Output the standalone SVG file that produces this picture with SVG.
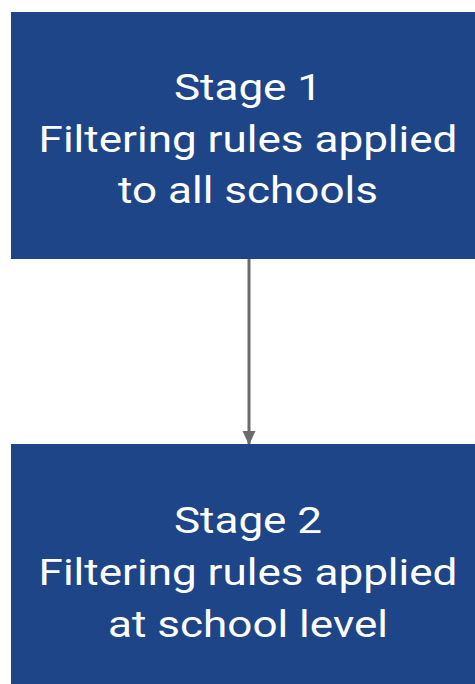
<svg xmlns="http://www.w3.org/2000/svg" width="475" height="684" viewBox="0 0 475 684">
<style>
.box{fill:#1d4587;}
.t{font-family:Roboto,"Liberation Sans",sans-serif;font-size:37px;fill:#ffffff;text-anchor:middle;}
.c{stroke:#6b6b6b;stroke-width:3;fill:none;}
</style>
<defs>
<marker id="ah" markerWidth="14" markerHeight="14" refX="13" refY="7" orient="auto" markerUnits="userSpaceOnUse" viewBox="0 0 14 14">
<path d="M0,0.5 L14,7 L0,13.5 z" fill="#6b6b6b"/>
</marker>
</defs>
<g id="connectors">
<line class="c" x1="249" y1="259" x2="249" y2="444" marker-end="url(#ah)"/>
</g>
<g id="stage1">
<rect class="box" x="11" y="12" width="480" height="247"/>
<g transform="translate(248,0) scale(1.19,1)">
<text class="t" x="0" y="100">Stage 1</text>
<text class="t" x="0" y="152">Filtering rules applied</text>
<text class="t" x="0" y="203">to all schools</text>
</g>
</g>
<g id="stage2">
<rect class="box" x="11" y="444" width="480" height="250"/>
<g transform="translate(248,0) scale(1.19,1)">
<text class="t" x="0" y="533">Stage 2</text>
<text class="t" x="0" y="585">Filtering rules applied</text>
<text class="t" x="0" y="637">at school level</text>
</g>
</g>
</svg>
